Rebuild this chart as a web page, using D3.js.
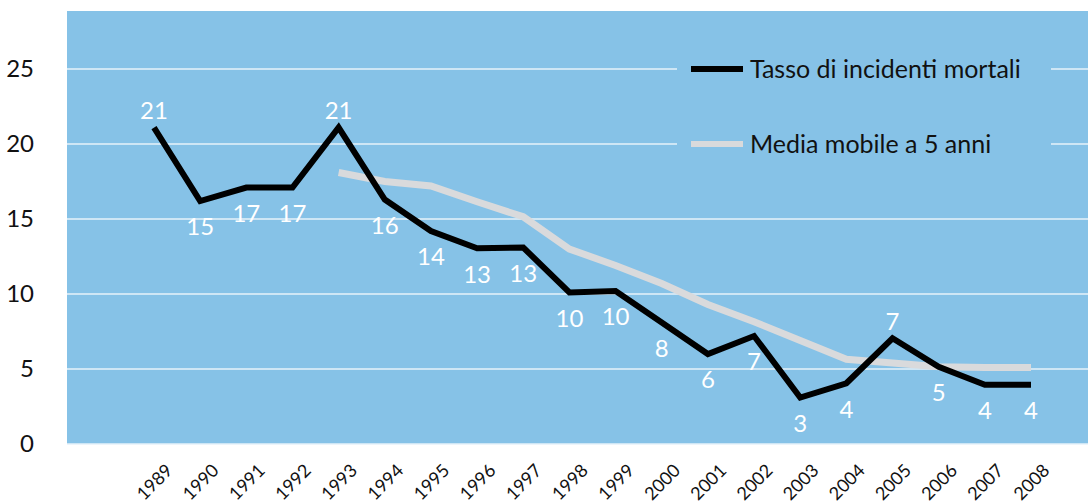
<!DOCTYPE html>
<html>
<head>
<meta charset="utf-8">
<script src="https://cdn.jsdelivr.net/npm/d3@7"></script>
<style>
  body { margin: 0; background: #fff; }
  svg { display: block; font-family: Lato, sans-serif; }
</style>
</head>
<body>
<svg></svg>
<script>
let years = [1989, 1990, 1991, 1992, 1993, 1994, 1995, 1996, 1997, 1998,
    1999, 2000, 2001, 2002, 2003, 2004, 2005, 2006, 2007, 2008];
let rate = [21.1, 16.2, 17.1, 17.1, 21.1, 16.3, 14.2, 13.05, 13.1, 10.1,
    10.2, 8.1, 6.0, 7.2, 3.1, 4.05, 7.05, 5.15, 3.95, 3.95];
let movingAvg = [null, null, null, null, 18.1, 17.5, 17.2, 16.15, 15.15, 13.0,
    11.9, 10.7, 9.3, 8.15, 6.9, 5.65, 5.4, 5.15, 5.1, 5.1];
let valueLabels = ['21', '15', '17', '17', '21', '16', '14', '13', '13', '10',
    '10', '8', '6', '7', '3', '4', '7', '5', '4', '4'];
let labelSide = ['up', 'down', 'down', 'down', 'up', 'down', 'down', 'down', 'down', 'down',
    'down', 'down', 'down', 'down', 'down', 'down', 'up', 'down', 'down', 'down'];
let yTicks = [0, 5, 10, 15, 20, 25];
let seriesNames = ['Tasso di incidenti mortali', 'Media mobile a 5 anni'];

let width = 1088;
let height = 503;
let plot = { left: 67, right: 1088, top: 11, bottom: 444 };

let blue = '#86c2e7';
let grey = '#d9dadc';

let svg = d3.select('svg').attr('width', width).attr('height', height);

let xScale = d3.scaleLinear().domain([1989, 2008]).range([154, 1031]);
let yScale = d3.scaleLinear().domain([0, 28.87]).range([plot.bottom, plot.top]);

// plot background
svg.append('rect')
    .attr('x', plot.left)
    .attr('y', plot.top)
    .attr('width', plot.right - plot.left)
    .attr('height', plot.bottom - plot.top)
    .attr('fill', blue);

// gridlines
svg.append('g')
    .selectAll('line')
    .data(yTicks)
    .enter()
    .append('line')
    .attr('x1', plot.left)
    .attr('x2', plot.right)
    .attr('y1', (d) => yScale(d))
    .attr('y2', (d) => yScale(d))
    .attr('stroke', '#e6f2fa')
    .attr('stroke-width', 1.5);

// y axis labels
let yAxis = d3.axisLeft(yScale).tickValues(yTicks).tickSize(0).tickPadding(0);
let yg = svg.append('g')
    .attr('transform', 'translate(34, 0)')
    .call(yAxis);
yg.select('.domain').remove();
yg.selectAll('text')
    .attr('font-family', 'Lato, sans-serif')
    .attr('font-size', 24)
    .attr('fill', '#111');

// x axis labels
let xAxis = d3.axisBottom(xScale).tickValues(years).tickFormat(d3.format('d')).tickSize(0);
let xg = svg.append('g').call(xAxis);
xg.select('.domain').remove();
xg.selectAll('text')
    .attr('font-family', 'Lato, sans-serif')
    .attr('font-size', 18)
    .attr('fill', '#111')
    .attr('y', 0)
    .attr('dy', '0.35em')
    .attr('text-anchor', 'middle')
    .attr('transform', 'translate(0, 482) rotate(-45)');

// legend box hides gridlines behind it
svg.append('rect')
    .attr('x', 677)
    .attr('y', 40)
    .attr('width', 374)
    .attr('height', 130)
    .attr('fill', blue);

let points = years.map((y, i) => ({ year: y, rate: rate[i], avg: movingAvg[i], label: valueLabels[i], side: labelSide[i] }));

let avgLine = d3.line()
    .defined((d) => d.avg !== null)
    .x((d) => xScale(d.year))
    .y((d) => yScale(d.avg));

let rateLine = d3.line()
    .x((d) => xScale(d.year))
    .y((d) => yScale(d.rate));

svg.append('path')
    .datum(points)
    .attr('d', avgLine)
    .attr('fill', 'none')
    .attr('stroke', grey)
    .attr('stroke-width', 7);

svg.append('path')
    .datum(points)
    .attr('d', rateLine)
    .attr('fill', 'none')
    .attr('stroke', '#000')
    .attr('stroke-width', 6)
    .attr('stroke-linejoin', 'miter');

// value labels
svg.append('g')
    .selectAll('text')
    .data(points)
    .enter()
    .append('text')
    .attr('x', (d) => xScale(d.year))
    .attr('y', (d) => yScale(d.rate) + (d.side === 'up' ? -17 : 26))
    .attr('dy', '0.35em')
    .attr('text-anchor', 'middle')
    .attr('font-size', 24)
    .attr('fill', '#fff')
    .text((d) => d.label);

// legend
let legend = svg.append('g');
let legendColors = ['#000', grey];
let legendY = [yScale(25), yScale(20)];
seriesNames.forEach((name, i) => {
    legend.append('line')
        .attr('x1', 691)
        .attr('x2', 743)
        .attr('y1', legendY[i])
        .attr('y2', legendY[i])
        .attr('stroke', legendColors[i])
        .attr('stroke-width', 6);
    legend.append('text')
        .attr('x', 750)
        .attr('y', legendY[i])
        .attr('dy', '0.35em')
        .attr('font-size', 25)
        .attr('fill', '#111')
        .text(name);
});
</script>
</body>
</html>
